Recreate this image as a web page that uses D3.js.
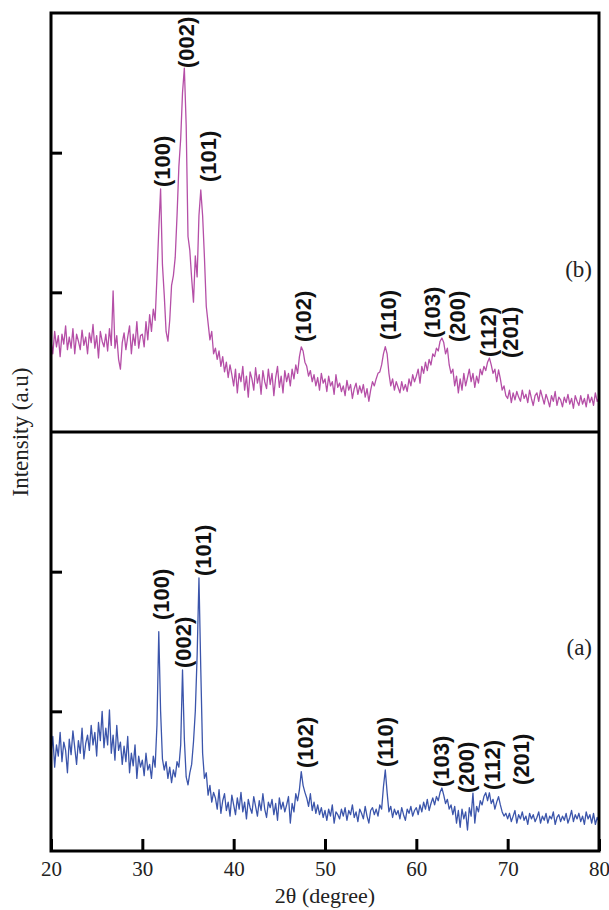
<!DOCTYPE html>
<head>
<meta charset="utf-8">
<style>
    body { margin: 0; background: #ffffff; }
    svg { display: block; }
</style>
</head>
<body>
<script src="https://d3js.org/d3.v7.min.js"></script>
<script type="text/javascript">

    // sampling grid, 2theta from 20 to 80 in 0.2 degree steps
    const two_theta = d3.range(0, 301).map(i => +(20 + i * 0.2).toFixed(1));

    // sample (b), intensity in arbitrary units
    const intensity_b = [
        650, 560, 720, 610, 690, 540, 700, 630, 760, 590,
        680, 600, 740, 560, 700, 650, 590, 730, 620, 680,
        560, 710, 640, 770, 600, 690, 530, 720, 650, 610,
        700, 580, 740, 620, 1010, 600, 690, 520, 450, 640,
        710, 590, 680, 760, 560, 700, 620, 790, 600, 690,
        700, 610, 790, 660, 840, 720, 880, 800, 1110, 1450,
        1740, 1200, 980, 720, 650, 800, 1050, 1120, 1250, 1550,
        1900, 2100, 2430, 2606, 2200, 1400, 1300, 1100, 930, 1260,
        1110, 1550, 1733, 1550, 1250, 900, 780, 660, 720, 560,
        600, 520, 580, 470, 540, 430, 500, 390, 480, 410,
        330, 450, 280, 420, 360, 470, 300, 400, 250, 430,
        380, 300, 460, 350, 410, 270, 440, 360, 310, 450,
        340, 420, 260, 390, 470, 320, 400, 280, 440, 360,
        420, 330, 450, 380, 480, 420, 540, 610, 580, 500,
        470, 400, 440, 360, 410, 330, 390, 300, 420, 350,
        380, 290, 400, 330, 360, 270, 410, 320, 350, 290,
        330, 260, 370, 300, 340, 240, 310, 350, 270, 330,
        280, 340, 250, 310, 220, 300, 360, 330, 380, 420,
        430, 480, 560, 611, 560, 420, 330, 380, 300, 360,
        320, 280, 360, 300, 340, 290, 380, 330, 410, 360,
        400, 450, 350, 470, 420, 500, 440, 520, 480, 560,
        540, 600, 580, 650, 673, 640, 560, 600, 480, 420,
        450, 330, 400, 280, 380, 300, 420, 330, 390, 450,
        360, 420, 320, 400, 350, 450, 410, 470, 440, 500,
        530, 480, 420, 450, 360, 444, 380, 300, 330, 260,
        240, 300, 210, 280, 230, 290, 250, 220, 300, 240,
        270, 210, 300, 240, 190, 260, 280, 220, 300, 250,
        200, 270, 230, 180, 260, 220, 290, 190, 250, 230,
        180, 250, 210, 270, 200, 240, 170, 260, 220, 190,
        260, 200, 240, 180, 270, 210, 250, 190, 280, 220,
        240
    ];

    // sample (a)
    const intensity_a = [
        700, 820, 600, 760, 680, 850, 640, 780, 720, 560,
        800, 690, 860, 740, 620, 790, 700, 880, 660, 770,
        830, 720, 900, 760, 850, 680, 920, 790, 1000, 740,
        880, 760, 1010, 700, 830, 650, 900, 720, 780, 620,
        750, 640, 820, 560, 700, 610, 760, 520, 680, 600,
        650, 540, 700, 580, 620, 520, 680, 600, 900, 1570,
        1000, 660, 580, 640, 520, 600, 490, 580, 530, 640,
        600, 760, 1296, 800, 530, 473, 560, 620, 780, 1000,
        1400, 1955, 1300, 700, 520, 560, 400, 470, 350, 420,
        380, 300, 440, 270, 360, 410, 290, 350, 250, 400,
        330, 260, 380, 300, 420, 280, 350, 230, 370, 310,
        270, 390, 320, 250, 360, 290, 410, 300, 240, 350,
        310, 370, 260, 340, 220, 380, 300, 350, 280, 330,
        390, 200, 340, 280, 410, 360, 440, 568, 470, 420,
        380, 320, 410, 290, 350, 270, 330, 260, 310, 240,
        290, 220, 300, 250, 330, 200, 280, 260, 230, 300,
        250, 310, 220, 290, 260, 330, 240, 280, 210, 300,
        270, 230, 320, 250, 200, 290, 310, 260, 300, 250,
        330, 300, 460, 580, 420, 280, 320, 240, 300, 260,
        290, 230, 310, 260, 220, 300, 270, 320, 250, 290,
        310, 260, 330, 280, 350, 300, 370, 290, 340, 380,
        330, 390, 360, 420, 451, 400, 340, 370, 300, 330,
        260, 320, 200, 290, 170, 300, 230, 280, 150, 310,
        250, 415, 200, 320, 280, 360, 330, 390, 417, 360,
        417, 340, 370, 300, 350, 389, 330, 280, 250, 270,
        230, 270, 210, 250, 290, 200, 260, 230, 280, 220,
        250, 190, 270, 230, 260, 210, 240, 280, 200, 250,
        220, 270, 200, 250, 230, 280, 190, 240, 260, 210,
        250, 220, 270, 200, 240, 290, 210, 260, 230, 270,
        210, 250, 190, 280, 230, 260, 200, 270, 190, 240,
        210
    ];

    // peak labels: text, 2theta of label centre, intensity where the label starts
    const hkl = ["(100)", "(002)", "(101)", "(102)", "(110)", "(103)", "(200)", "(112)", "(201)"];
    const label_x_b = [32.15, 34.78, 37.19, 47.59, 56.9, 61.72, 64.45, 67.85, 70.26];
    const label_y_b = [1754, 2606, 1790, 644, 659, 673, 644, 537, 530];
    const label_x_a = [32.04, 34.45, 36.64, 47.81, 56.57, 62.7, 65.44, 68.29, 71.46];
    const label_y_a = [1654, 1310, 1969, 594, 601, 458, 415, 437, 473];

    const x_ticks = [20, 30, 40, 50, 60, 70, 80];
    const y_ticks = [1000, 2000];

    let svg_w = 609;
    let svg_h = 910;
    let left_marg = 51;
    let right_marg = 10;
    let top_marg = 13;
    let plot_bottom = 851;
    let mid = (top_marg + plot_bottom) / 2;
    let serif = "'Liberation Serif', 'Times New Roman', serif";

    let svg = d3.select("body").append("svg")
        .attr("width", svg_w)
        .attr("height", svg_h)
        .attr("style", "background-color:#FFFFFF");

    let x_scale = d3.scaleLinear()
        .domain([20, 80])
        .range([left_marg, svg_w - right_marg]);

    let y_top = d3.scaleLinear().domain([0, 3000]).range([mid, top_marg]);
    let y_bot = d3.scaleLinear().domain([0, 3000]).range([plot_bottom, mid]);

    function draw_trace(values, y_scale, colour) {
        let pts = two_theta.map((t, i) => ({t: t, v: values[i]}));
        svg.append("path")
            .datum(pts)
            .attr("fill", "none")
            .attr("stroke", colour)
            .attr("stroke-width", 1.3)
            .attr("stroke-linejoin", "round")
            .attr("d", d3.line()
                .x(d => x_scale(d.t))
                .y(d => y_scale(d.v)));
    }

    draw_trace(intensity_b, y_top, "#b54fa7");
    draw_trace(intensity_a, y_bot, "#3b55ab");

    function draw_labels(xs, ys, y_scale) {
        svg.append("g").selectAll("text")
            .data(hkl)
            .join("text")
            .attr("transform", (d, i) => "translate(" + x_scale(xs[i]) + "," + y_scale(ys[i]) + ")rotate(-90)")
            .attr("dy", "0.36em")
            .attr("text-anchor", "start")
            .style("font-family", "'Liberation Sans', Arial, sans-serif")
            .style("font-weight", "bold")
            .style("font-size", "22px")
            .attr("fill", "#111")
            .text(d => d);
    }

    draw_labels(label_x_b, label_y_b, y_top);
    draw_labels(label_x_a, label_y_a, y_bot);

    // inward y ticks, no labels
    for (const ys of [y_top, y_bot]) {
        let g = svg.append("g")
            .attr("transform", "translate(" + left_marg + ",0)")
            .call(d3.axisLeft(ys).tickValues(y_ticks).tickSize(-11).tickFormat(""));
        g.select(".domain").remove();
        g.selectAll("line").attr("stroke-width", 3).attr("stroke", "#000");
    }

    // x axis, ticks point inward
    let x_axis = svg.append("g")
        .attr("transform", "translate(0," + plot_bottom + ")")
        .call(d3.axisBottom(x_scale).tickValues(x_ticks).tickSizeInner(-12).tickSizeOuter(0).tickPadding(10));
    x_axis.select(".domain").remove();
    x_axis.selectAll("line").attr("stroke-width", 3).attr("stroke", "#000");
    x_axis.selectAll("text")
        .style("font-family", serif)
        .style("font-size", "21px")
        .attr("fill", "#222");

    // frame and divider
    svg.append("rect")
        .attr("x", left_marg)
        .attr("y", top_marg)
        .attr("width", x_scale(80) - left_marg)
        .attr("height", plot_bottom - top_marg)
        .attr("fill", "none")
        .attr("stroke", "#000")
        .attr("stroke-width", 3);

    svg.append("line")
        .attr("x1", left_marg).attr("x2", x_scale(80))
        .attr("y1", mid).attr("y2", mid)
        .attr("stroke", "#000")
        .attr("stroke-width", 3);

    // panel tags
    svg.append("text").text("(b)")
        .attr("x", 592).attr("y", 277)
        .attr("text-anchor", "end")
        .style("font-family", serif)
        .style("font-size", "23px")
        .attr("fill", "#222");

    svg.append("text").text("(a)")
        .attr("x", 592).attr("y", 655)
        .attr("text-anchor", "end")
        .style("font-family", serif)
        .style("font-size", "23px")
        .attr("fill", "#222");

    // axis titles
    svg.append("text")
        .text("2θ (degree)")
        .attr("x", (left_marg + x_scale(80)) / 2)
        .attr("y", 903)
        .attr("text-anchor", "middle")
        .style("font-family", serif)
        .style("font-size", "22px")
        .attr("fill", "#222");

    svg.append("text")
        .text("Intensity (a.u)")
        .attr("text-anchor", "middle")
        .attr("transform", "translate(28," + mid + ")rotate(-90)")
        .style("font-family", serif)
        .style("font-size", "23px")
        .attr("fill", "#222");

</script>
</body>
